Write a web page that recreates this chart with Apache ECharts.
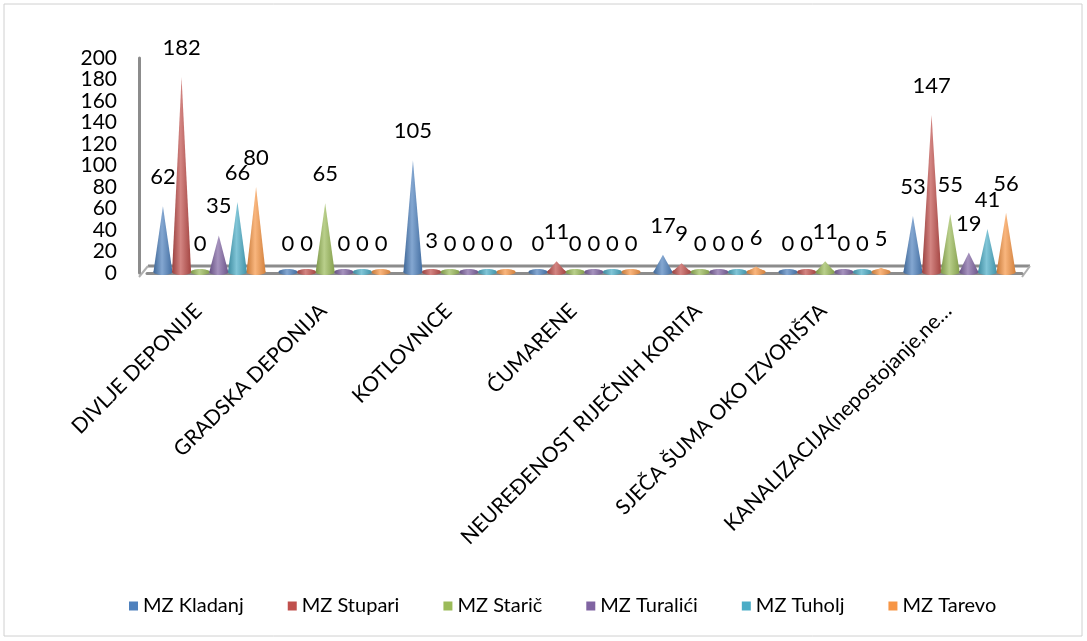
<!DOCTYPE html>
<html>
<head>
<meta charset="utf-8">
<script src="https://cdn.jsdelivr.net/npm/echarts@6/dist/echarts.min.js"></script>
<style>
html,body{margin:0;padding:0;background:#fff;}
#chart{width:1087px;height:641px;}
</style>
</head>
<body>
<div id="chart"></div>
<script>
const categories = ['DIVLJE DEPONIJE','GRADSKA DEPONIJA','KOTLOVNICE','ĆUMARENE','NEUREĐENOST RIJEČNIH KORITA','SJEČA ŠUMA OKO IZVORIŠTA','KANALIZACIJA(nepostojanje,ne…'];
const seriesNames = ['MZ Kladanj','MZ Stupari','MZ Starič','MZ Turalići','MZ Tuholj','MZ Tarevo'];
const kladanj  = [62, 0, 105, 0, 17, 0, 53];
const stupari  = [182, 0, 3, 11, 9, 0, 147];
const staric   = [0, 65, 0, 0, 0, 11, 55];
const turalici = [35, 0, 0, 0, 0, 0, 19];
const tuholj   = [66, 0, 0, 0, 0, 0, 41];
const tarevo   = [80, 0, 0, 0, 6, 5, 56];
const yTicks = [0, 20, 40, 60, 80, 100, 120, 140, 160, 180, 200];

const allValues = [kladanj, stupari, staric, turalici, tuholj, tarevo];
const colors = ['#4F81BD','#C0504D','#9BBB59','#8064A2','#4BACC6','#F79646'];
const FONT = 'Lato';

function shade(hex, f) {
  const n = parseInt(hex.slice(1), 16);
  let r = (n >> 16) & 255, g = (n >> 8) & 255, b = n & 255;
  if (f < 0) { r = Math.round(r * (1 + f)); g = Math.round(g * (1 + f)); b = Math.round(b * (1 + f)); }
  else { r = Math.round(r + (255 - r) * f); g = Math.round(g + (255 - g) * f); b = Math.round(b + (255 - b) * f); }
  return 'rgb(' + r + ',' + g + ',' + b + ')';
}

function makeRender(si) {
  return function (params, api) {
    const cat = api.value(0), val = api.value(1);
    const base = api.coord([cat, 0]);
    const top = api.coord([cat, val]);
    const band = api.size([1, 0])[0];
    const slot = band * 0.149;
    const x = base[0] + (si - 2.5) * slot;
    const w = 19;
    const by = base[1] - 1;
    const c = colors[si];
    const grad = new echarts.graphic.LinearGradient(0, 0, 1, 0, [
      { offset: 0, color: shade(c, -0.2) },
      { offset: 0.45, color: shade(c, 0.3) },
      { offset: 1, color: shade(c, -0.15) }
    ]);
    const children = [];
    children.push({
      type: 'ellipse',
      shape: { cx: x, cy: by, rx: w / 2, ry: 3 },
      style: { fill: grad }
    });
    if (val > 0) {
      children.push({
        type: 'polygon',
        shape: { points: [[x - w / 2, by], [x, top[1]], [x + w / 2, by]] },
        style: { fill: grad }
      });
    }
    children.push({
      type: 'text',
      style: {
        text: String(val), x: x, y: top[1] - 18,
        fill: '#000', font: '22px ' + FONT,
        align: 'center', verticalAlign: 'bottom'
      }
    });
    return { type: 'group', children: children };
  };
}

const chart = echarts.init(document.getElementById('chart'));
const series = allValues.map((arr, si) => ({
  name: seriesNames[si],
  type: 'custom',
  renderItem: makeRender(si),
  itemStyle: { color: colors[si] },
  encode: { x: 0, y: 1 },
  data: arr.map((v, i) => [i, v]),
  z: 3
}));

chart.setOption({
  animation: false,
  backgroundColor: '#fff',
  textStyle: { fontFamily: FONT },
  grid: { left: 147, right: 65, top: 58, bottom: 368 },
  legend: {
    bottom: 20, left: 124,
    itemWidth: 9, itemHeight: 9, itemGap: 44,
    icon: 'rect',
    textStyle: { fontSize: 20, color: '#000', fontFamily: FONT },
    data: seriesNames
  },
  xAxis: {
    type: 'category', data: categories,
    offset: 4,
    axisLine: { show: true, lineStyle: { color: '#8c8c8c', width: 3 } },
    axisTick: { show: false },
    axisLabel: { rotate: 45, interval: 0, margin: 19, fontSize: 21, color: '#000', fontFamily: FONT,
      padding: [0, 16, 0, 0] }
  },
  yAxis: {
    type: 'value', min: 0, max: 200, interval: 20,
    offset: 8,
    axisLine: { show: true, lineStyle: { color: '#8c8c8c', width: 3 } },
    axisTick: { show: false },
    splitLine: { show: false },
    axisLabel: { margin: 22, fontSize: 21, lineHeight: 18, color: '#000', fontFamily: FONT,
      showMinLabel: true, showMaxLabel: true, hideOverlap: false,
      formatter: v => yTicks.indexOf(v) >= 0 ? String(v) : '' }
  },
  graphic: [
    { type: 'rect', shape: { x: 4, y: 4, width: 1078, height: 632 }, style: { fill: 'none', stroke: '#d0d0d0', lineWidth: 1 }, silent: true },
    { type: 'line', shape: { x1: 148, y1: 266, x2: 1030, y2: 266 }, style: { stroke: '#8c8c8c', lineWidth: 3 }, silent: true },
    { type: 'line', shape: { x1: 139, y1: 277, x2: 148, y2: 266 }, style: { stroke: '#b0b0b0', lineWidth: 2 }, silent: true },
    { type: 'line', shape: { x1: 1022, y1: 277, x2: 1030, y2: 266 }, style: { stroke: '#b0b0b0', lineWidth: 2 }, silent: true }
  ],
  series: series
});
</script>
</body>
</html>
